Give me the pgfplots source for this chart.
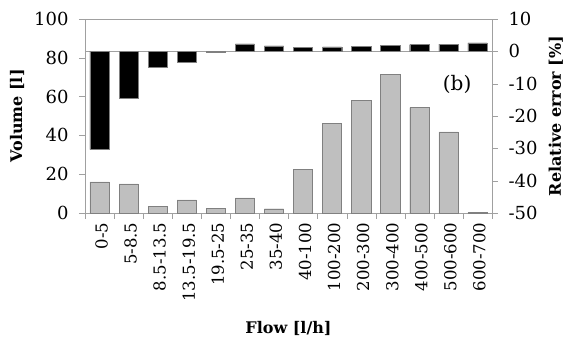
\documentclass[border=0pt]{standalone}
\usepackage{pgfplots}
\pgfplotsset{compat=1.18}
\usepackage{fontspec}
\setmainfont{DejaVu Serif}
\definecolor{barg}{RGB}{191,191,191}
\definecolor{edg}{RGB}{128,128,128}
\definecolor{axg}{RGB}{160,160,160}
\begin{document}
\begin{tikzpicture}
\useasboundingbox (-85pt,-129pt) rectangle (481pt,213pt);
\begin{axis}[
  at={(0,0)}, anchor=south west,
  scale only axis, width=407pt, height=194pt,
  xmin=-0.5, xmax=13.5, ymin=0, ymax=100,
  ytick={0,20,...,100},
  xtick={0,...,13},
  xticklabels={0-5,5-8.5,8.5-13.5,13.5-19.5,19.5-25,25-35,35-40,40-100,100-200,200-300,300-400,400-500,500-600,600-700},
  x tick label style={rotate=90, anchor=east, yshift=-2pt, font=\fontsize{16.5}{19}\selectfont},
  y tick label style={xshift=-7pt, font=\fontsize{18}{21}\selectfont},
  major x tick style={draw=none},
  minor xtick={-0.5,0.5,...,13.5},
  minor x tick style={axg},
  minor tick length=6pt, major tick length=6pt,
  tick align=outside,
  xtick pos=bottom, ytick pos=left,
  axis line style={axg}, ytick style={axg},
  ylabel={Volume [l]}, xlabel={Flow [l/h]},
  ylabel style={at={(axis description cs:-0.167,0.5)}, rotate=0, anchor=center, font=\fontsize{16}{19}\selectfont\bfseries},
  xlabel style={at={(axis description cs:0.5,-0.593)}, anchor=center, font=\fontsize{16}{19}\selectfont\bfseries},
  /pgf/number format/assume math mode=true,
  clip=false,
]
\addplot[ybar, bar width=0.66, fill=barg, draw=edg] coordinates {
 (0,16.1) (1,15.0) (2,3.6) (3,6.8) (4,2.4) (5,7.8) (6,2.2) (7,22.6)
 (8,46.2) (9,58.0) (10,71.5) (11,54.3) (12,41.8) (13,0.3)};
\node[font=\fontsize{20}{24}\selectfont] at (axis cs:12.3,66) {(b)};
\end{axis}
\begin{axis}[
  at={(0,0)}, anchor=south west,
  scale only axis, width=407pt, height=194pt,
  xmin=-0.5, xmax=13.5, ymin=-50, ymax=10,
  axis y line*=right, axis x line=none,
  ytick={-50,-40,...,10},
  tick align=outside, major tick length=6pt,
  axis line style={axg}, ytick style={axg},
  y tick label style={xshift=7pt, font=\fontsize{18}{21}\selectfont},
  ylabel={Relative error [\%]},
  ylabel style={at={(axis description cs:1.157,0.5)}, anchor=center, font=\fontsize{16}{19}\selectfont\bfseries},
  /pgf/number format/assume math mode=true,
]
\draw[axg] (axis cs:-0.5,0) -- (axis cs:13.5,0);
\addplot[ybar, bar width=0.66, fill=black, draw=edg] coordinates {
 (0,-30.4) (1,-14.4) (2,-4.9) (3,-3.3) (4,-0.4) (5,2.3) (6,1.7) (7,1.2)
 (8,1.4) (9,1.6) (10,1.9) (11,2.1) (12,2.2) (13,2.6)};
\end{axis}
\end{tikzpicture}
\end{document}
